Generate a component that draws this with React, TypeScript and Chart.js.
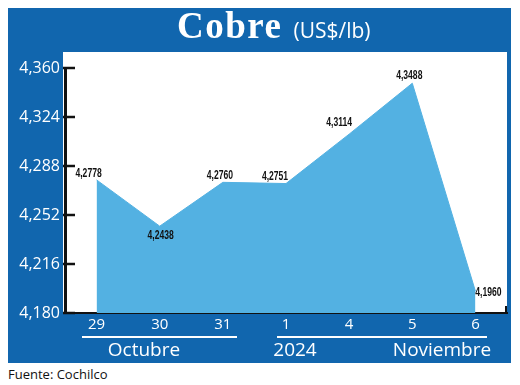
import React, { useEffect, useRef } from "react";
import { Chart, registerables } from "chart.js";

Chart.register(...registerables);

const CATEGORIES = ["29", "30", "31", "1", "4", "5", "6"];
const VALUES = [4.2778, 4.2438, 4.276, 4.2751, 4.3114, 4.3488, 4.196];
const Y_TICKS = [4.18, 4.216, 4.252, 4.288, 4.324, 4.36];
const MONTHS = ["Octubre", "2024", "Noviembre"];
const TITLE = "Cobre";
const UNIT = "(US$/lb)";
const SOURCE = "Fuente: Cochilco";

// styling only: label offsets relative to each point
const LABEL_OFFSETS: [number, number][] = [
  [-8, -6],
  [1, 9],
  [-3, -7],
  [-11, -7],
  [-10, -12],
  [-3, -8],
  [13, 1],
];

const BLUE = "#1166ae";
const FILL = "#53b1e2";

const fmt = (v: number, d: number) => v.toFixed(d).replace(".", ",");

const decoPlugin = {
  id: "deco",
  beforeDraw(chart: any) {
    const { ctx, chartArea: a } = chart;
    ctx.save();
    ctx.fillStyle = "#ffffff";
    ctx.fillRect(a.left - 2, a.top - 16, a.right - a.left + 2, a.bottom - a.top + 16);
    ctx.restore();
  },
  afterDatasetsDraw(chart: any) {
    const { ctx } = chart;
    const meta = chart.getDatasetMeta(0);
    const sx = 0.66;
    ctx.save();
    ctx.fillStyle = "#111";
    ctx.font = 'bold 13px "Liberation Sans", Arial, sans-serif';
    ctx.textAlign = "center";
    ctx.textBaseline = "middle";
    meta.data.forEach((pt: any, i: number) => {
      const [dx, dy] = LABEL_OFFSETS[i] || [0, -8];
      ctx.save();
      ctx.translate(pt.x + dx, pt.y + dy);
      ctx.scale(sx, 1);
      ctx.fillText(fmt(VALUES[i], 4), 0, 0);
      ctx.restore();
    });
    ctx.restore();
  },
  afterDraw(chart: any) {
    const { ctx, chartArea: a } = chart;
    const y = chart.scales.y;
    ctx.save();
    ctx.strokeStyle = "#111";
    ctx.lineWidth = 2.5;
    Y_TICKS.forEach((t) => {
      const py = Math.round(y.getPixelForValue(t));
      ctx.beginPath();
      ctx.moveTo(a.left - 2, py);
      ctx.lineTo(a.left + 10, py);
      ctx.stroke();
    });
    ctx.lineWidth = 2;
    ctx.beginPath();
    ctx.moveTo(a.right - 1, a.bottom);
    ctx.lineTo(a.right - 1, a.bottom - 7);
    ctx.stroke();
    ctx.restore();
  },
};

export default function App() {
  const ref = useRef<HTMLCanvasElement | null>(null);

  useEffect(() => {
    if (!ref.current) return;
    const chart = new Chart(ref.current, {
      type: "line",
      data: {
        labels: CATEGORIES,
        datasets: [
          {
            data: VALUES,
            borderColor: FILL,
            backgroundColor: FILL,
            borderWidth: 1,
            fill: "start",
            pointRadius: 0,
            tension: 0,
          },
        ],
      },
      options: {
        responsive: false,
        animation: false,
        layout: { padding: { top: 60, right: 4, bottom: 0, left: 0 } },
        plugins: { legend: { display: false }, tooltip: { enabled: false }, title: { display: false } },
        scales: {
          x: {
            offset: true,
            grid: { display: true, drawOnChartArea: false, drawTicks: false },
            border: { display: true, color: "#111", width: 2 },
            ticks: {
              color: "#ffffff",
              font: { family: '"Open Sans", sans-serif', size: 15 },
              padding: 3,
            },
            afterFit: (s: any) => {
              s.height = 50;
            },
          },
          y: {
            min: 4.18,
            max: 4.36,
            grid: { display: true, drawOnChartArea: false, drawTicks: false },
            border: { display: true, color: "#111", width: 3 },
            ticks: {
              color: "#ffffff",
              font: { family: '"Open Sans", sans-serif', size: 16 },
              padding: 5,
              callback: (v: any) => fmt(Number(v), 3),
            },
            afterBuildTicks: (s: any) => {
              s.ticks = Y_TICKS.map((v) => ({ value: v }));
            },
            afterFit: (s: any) => {
              s.width = 57;
            },
          },
        },
      },
      plugins: [decoPlugin],
    });
    return () => chart.destroy();
  }, []);

  const monthStyle = (center: number): React.CSSProperties => ({
    position: "absolute",
    left: center - 100,
    width: 200,
    top: 332,
    textAlign: "center",
    color: "#fff",
    fontFamily: '"Open Sans", sans-serif',
    fontSize: 19,
    lineHeight: "19px",
  });

  return (
    <div style={{ width: 503 }}>
      <div style={{ position: "relative", width: 503, height: 355, background: BLUE, overflow: "hidden" }}>
        <canvas ref={ref} width={503} height={355} style={{ position: "absolute", left: 0, top: 0, width: 503, height: 355 }} />
        <div
          style={{
            position: "absolute",
            top: -1,
            left: 169,
            whiteSpace: "nowrap",
            color: "#fff",
            fontFamily: '"Liberation Serif", serif',
            fontSize: 37,
            lineHeight: 1,
          }}
        >
          <span style={{ fontWeight: "bold", letterSpacing: 1.5 }}>{TITLE}</span>
          <span style={{ fontFamily: '"Open Sans", sans-serif', fontSize: 21, marginLeft: 11 }}>{UNIT}</span>
        </div>
        <div style={{ position: "absolute", left: 74, top: 328, width: 155, height: 2, background: "#fff" }} />
        <div style={{ position: "absolute", left: 269, top: 328, width: 210, height: 2, background: "#fff" }} />
        <div style={monthStyle(136)}>{MONTHS[0]}</div>
        <div style={monthStyle(287)}>{MONTHS[1]}</div>
        <div style={monthStyle(434)}>{MONTHS[2]}</div>
      </div>
      <div
        style={{
          marginTop: 2,
          fontFamily: '"Open Sans", sans-serif',
          fontSize: 13,
          color: "#111",
        }}
      >
        {SOURCE}
      </div>
    </div>
  );
}
